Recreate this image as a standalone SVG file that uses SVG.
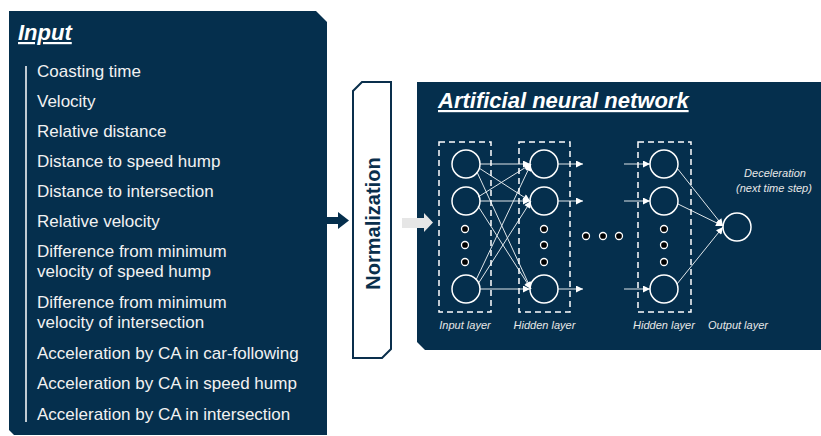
<svg xmlns="http://www.w3.org/2000/svg" width="821" height="436" viewBox="0 0 821 436">
<defs>
<style>
.panel{fill:#052f4d}
.item{font-family:"Liberation Sans",Arial,sans-serif;font-size:17px;fill:#f2f2f2}
.title{font-family:"Liberation Sans",Arial,sans-serif;font-size:22px;font-weight:bold;font-style:italic;fill:#ffffff;text-decoration:underline}
.small{font-family:"Liberation Sans",Arial,sans-serif;font-size:11px;font-style:italic;fill:#e8e8e8}
.dash{fill:none;stroke:#ffffff;stroke-width:1.5;stroke-dasharray:6 4}
.neuron{fill:none;stroke:#ffffff;stroke-width:1.5}
.dot{fill:#000000;stroke:#ffffff;stroke-width:1.3}
.link{stroke:#dfe6ea;stroke-width:1;fill:none;marker-end:url(#ah)}
</style>
<marker id="ah" viewBox="0 0 10 10" refX="10" refY="5" markerWidth="8" markerHeight="7" markerUnits="userSpaceOnUse" orient="auto">
<path d="M0,0 L10,5 L0,10 z" fill="#ffffff"/>
</marker>
</defs>
<rect width="821" height="436" fill="#ffffff"/>

<g id="input-panel">
<path class="panel" d="M9,11 H316 L327,22 V435 H14 L9,430 Z"/>
<text class="title" x="18" y="40">Input</text>
<line x1="26" y1="66" x2="26" y2="422" stroke="#ffffff" stroke-width="1.5"/>
<text class="item" x="37" y="77">Coasting time</text>
<text class="item" x="37" y="107">Velocity</text>
<text class="item" x="37" y="137">Relative distance</text>
<text class="item" x="37" y="167">Distance to speed hump</text>
<text class="item" x="37" y="197">Distance to intersection</text>
<text class="item" x="37" y="227">Relative velocity</text>
<text class="item" x="37" y="257">Difference from minimum</text>
<text class="item" x="37" y="277">velocity of speed hump</text>
<text class="item" x="37" y="308">Difference from minimum</text>
<text class="item" x="37" y="328">velocity of intersection</text>
<text class="item" x="37" y="359">Acceleration by CA in car-following</text>
<text class="item" x="37" y="389">Acceleration by CA in speed hump</text>
<text class="item" x="37" y="420">Acceleration by CA in intersection</text>
</g>

<g id="normalization">
<path d="M362,82 H391 V349 L382,358 H353 V91 Z" fill="#ffffff" stroke="#0a2f4c" stroke-width="2"/>
<text transform="translate(380,223.5) rotate(-90)" text-anchor="middle" font-family="'Liberation Sans',Arial,sans-serif" font-size="20" font-weight="bold" fill="#0a2f4c">Normalization</text>
</g>

<g id="ann-panel">
<path class="panel" d="M417,82 H821 V350 H425 L417,342 Z"/>
<text class="title" x="438" y="108">Artificial neural network</text>
</g>

<g id="connectors">
<rect x="325" y="217" width="14" height="7" fill="#052f4d"/>
<polygon points="338,212 349,220.5 338,229" fill="#052f4d"/>
<rect x="402" y="218" width="23" height="10" fill="#e6e6e6"/>
<polygon points="424,213 433,222.5 424,232" fill="#e6e6e6"/>
<!-- input -> hidden1 -->
<line class="link" x1="480" y1="164" x2="530" y2="164"/>
<line class="link" x1="479" y1="168" x2="530" y2="201"/>
<line class="link" x1="477" y1="172" x2="531" y2="289"/>
<line class="link" x1="478" y1="197" x2="531" y2="164"/>
<line class="link" x1="480" y1="201" x2="530" y2="201"/>
<line class="link" x1="478" y1="206" x2="531" y2="289"/>
<line class="link" x1="476" y1="280" x2="531" y2="164"/>
<line class="link" x1="478" y1="284" x2="531" y2="201"/>
<line class="link" x1="480" y1="289" x2="530" y2="289"/>
<!-- hidden1 out -->
<line class="link" x1="558" y1="164" x2="583" y2="164"/>
<line class="link" x1="558" y1="201" x2="583" y2="201"/>
<line class="link" x1="558" y1="289" x2="583" y2="289"/>
<!-- hidden2 in -->
<line class="link" x1="624" y1="164" x2="650" y2="164"/>
<line class="link" x1="624" y1="201" x2="650" y2="201"/>
<line class="link" x1="624" y1="289" x2="650" y2="289"/>
<!-- hidden2 -> output -->
<line class="link" x1="677" y1="168" x2="723" y2="226"/>
<line class="link" x1="678" y1="204" x2="723" y2="226"/>
<line class="link" x1="677" y1="284" x2="723" y2="227"/>
</g>

<g id="input-layer">
<rect class="dash" x="439" y="142" width="52" height="170"/>
<circle class="neuron" cx="466" cy="164" r="14"/>
<circle class="neuron" cx="466" cy="201" r="14"/>
<circle class="neuron" cx="466" cy="289" r="14"/>
<circle class="dot" cx="465" cy="229" r="3.5"/>
<circle class="dot" cx="465" cy="245" r="3.5"/>
<circle class="dot" cx="465" cy="262" r="3.5"/>
<text class="small" x="465" y="329" text-anchor="middle">Input layer</text>
</g>

<g id="hidden-layer-1">
<rect class="dash" x="519" y="142" width="51" height="170"/>
<circle class="neuron" cx="544" cy="164" r="14"/>
<circle class="neuron" cx="544" cy="201" r="14"/>
<circle class="neuron" cx="544" cy="289" r="14"/>
<circle class="dot" cx="544" cy="229" r="3.5"/>
<circle class="dot" cx="544" cy="245" r="3.5"/>
<circle class="dot" cx="544" cy="262" r="3.5"/>
<text class="small" x="544.5" y="329" text-anchor="middle">Hidden layer</text>
</g>

<g id="ellipsis">
<circle class="dot" cx="586" cy="236" r="3.5"/>
<circle class="dot" cx="603" cy="236" r="3.5"/>
<circle class="dot" cx="619" cy="236" r="3.5"/>
</g>

<g id="hidden-layer-n">
<rect class="dash" x="638" y="142" width="53" height="170"/>
<circle class="neuron" cx="664" cy="164" r="14"/>
<circle class="neuron" cx="664" cy="201" r="14"/>
<circle class="neuron" cx="664" cy="289" r="14"/>
<circle class="dot" cx="664" cy="229" r="3.5"/>
<circle class="dot" cx="664" cy="245" r="3.5"/>
<circle class="dot" cx="664" cy="262" r="3.5"/>
<text class="small" x="664" y="329" text-anchor="middle">Hidden layer</text>
</g>

<g id="output-layer">
<circle class="neuron" cx="737" cy="227" r="14"/>
<text class="small" x="775" y="177" text-anchor="middle">Deceleration</text>
<text class="small" x="774" y="192" text-anchor="middle">(next time step)</text>
<text class="small" x="738" y="329" text-anchor="middle">Output layer</text>
</g>
</svg>
